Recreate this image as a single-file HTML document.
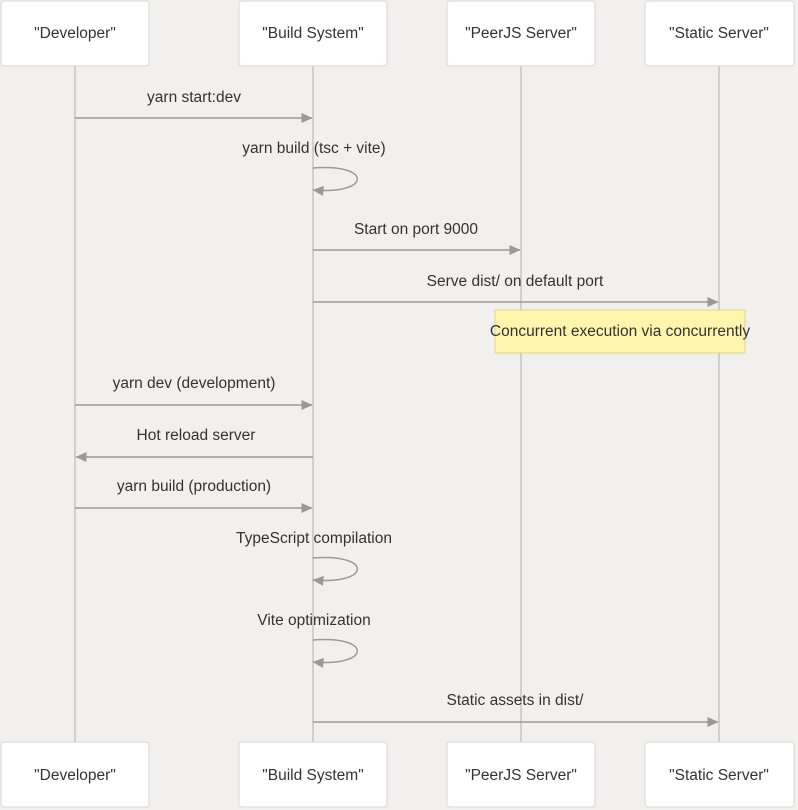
<!DOCTYPE html>
<html><head><meta charset="utf-8"><style>
html,body{margin:0;padding:0;background:#f2f0ee;}
svg{display:block;}
text{font-family:"Liberation Sans",sans-serif;font-size:15.5px;fill:#333;text-anchor:middle;}
.box{fill:#fff;stroke:#d6d6d6;stroke-width:1;}
.life{stroke:#cfcfcf;stroke-width:2;}
.msg{stroke:#999;stroke-width:1.5;fill:none;}
</style></head><body>
<svg width="798" height="810" viewBox="0 0 798 810" xmlns="http://www.w3.org/2000/svg">
<defs>
<marker id="a" viewBox="0 0 11 10" refX="10.5" refY="5" markerWidth="11" markerHeight="11" orient="auto-start-reverse" markerUnits="userSpaceOnUse">
<path d="M0,0 L11,5 L0,10 z" fill="#999"/>
</marker>
</defs>
<line class="life" x1="75" y1="66" x2="75" y2="742"/>
<line class="life" x1="313" y1="66" x2="313" y2="742"/>
<line class="life" x1="521" y1="66" x2="521" y2="742"/>
<line class="life" x1="719" y1="66" x2="719" y2="742"/>

<rect class="box" x="1" y="1" width="148" height="65" rx="3"/><text x="75" y="38">"Developer"</text>
<rect class="box" x="239" y="1" width="148" height="65" rx="3"/><text x="313" y="38">"Build System"</text>
<rect class="box" x="447" y="1" width="148" height="65" rx="3"/><text x="521" y="38">"PeerJS Server"</text>
<rect class="box" x="645" y="1" width="149" height="65" rx="3"/><text x="719" y="38">"Static Server"</text>

<rect class="box" x="1" y="742" width="148" height="65" rx="3"/><text x="75" y="780">"Developer"</text>
<rect class="box" x="239" y="742" width="148" height="65" rx="3"/><text x="313" y="780">"Build System"</text>
<rect class="box" x="447" y="742" width="148" height="65" rx="3"/><text x="521" y="780">"PeerJS Server"</text>
<rect class="box" x="645" y="742" width="149" height="65" rx="3"/><text x="719" y="780">"Static Server"</text>

<text x="194" y="102">yarn start:dev</text>
<line class="msg" x1="75" y1="118" x2="312" y2="118" marker-end="url(#a)"/>

<text x="314" y="153">yarn build (tsc + vite)</text>
<path class="msg" d="M313,168 C372,163 372,195 313,190" marker-end="url(#a)"/>

<text x="416" y="234">Start on port 9000</text>
<line class="msg" x1="313" y1="250" x2="520" y2="250" marker-end="url(#a)"/>

<text x="515" y="286">Serve dist/ on default port</text>
<line class="msg" x1="313" y1="302" x2="718" y2="302" marker-end="url(#a)"/>

<rect x="495" y="310" width="250" height="43" fill="#fff5ad" stroke="#e0d38a" stroke-width="1"/>
<text x="620" y="336">Concurrent execution via concurrently</text>

<text x="194" y="388">yarn dev (development)</text>
<line class="msg" x1="75" y1="405" x2="312" y2="405" marker-end="url(#a)"/>

<text x="196" y="440">Hot reload server</text>
<line class="msg" x1="313" y1="457" x2="76" y2="457" marker-end="url(#a)"/>

<text x="194" y="491">yarn build (production)</text>
<line class="msg" x1="75" y1="508" x2="312" y2="508" marker-end="url(#a)"/>

<text x="314" y="543">TypeScript compilation</text>
<path class="msg" d="M313,558 C372,553 372,585 313,580" marker-end="url(#a)"/>

<text x="314" y="625">Vite optimization</text>
<path class="msg" d="M313,640 C372,635 372,667 313,662" marker-end="url(#a)"/>

<text x="515" y="705">Static assets in dist/</text>
<line class="msg" x1="313" y1="722" x2="718" y2="722" marker-end="url(#a)"/>
</svg>
</body></html>
